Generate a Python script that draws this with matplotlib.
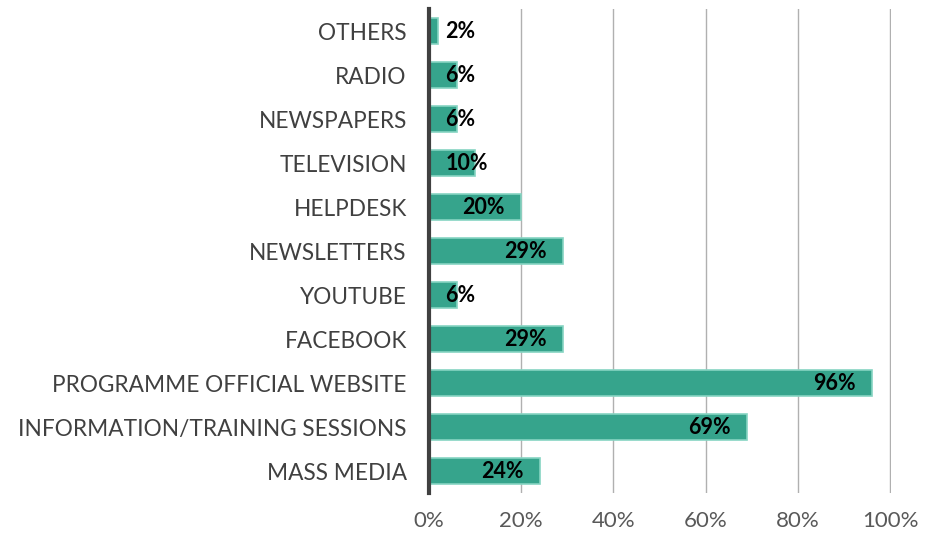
import numpy as np
import matplotlib.pyplot as plt

plt.rcParams['font.family'] = ['Lato', 'DejaVu Sans']

# 数据（从上到下）
categories = ['OTHERS', 'RADIO', 'NEWSPAPERS', 'TELEVISION', 'HELPDESK',
              'NEWSLETTERS', 'YOUTUBE', 'FACEBOOK',
              'PROGRAMME OFFICIAL WEBSITE', 'INFORMATION/TRAINING SESSIONS',
              'MASS MEDIA']
values = [2, 6, 6, 10, 20, 29, 6, 29, 96, 69, 24]
xticks = [0, 20, 40, 60, 80, 100]

fig = plt.figure(figsize=(9.28, 5.4), dpi=100)
ax = fig.add_axes([0.4623, 0.087, 0.4978, 0.896])

y = np.arange(len(categories))
ax.barh(y, values, height=0.6, color='#36a48c', edgecolor='#86d4c2',
        linewidth=1.2, zorder=3)

ax.set_ylim(len(categories) - 0.5, -0.5)
ax.set_xlim(0, 100.2)
ax.set_yticks(y)
ax.set_yticklabels(categories, fontsize=16.3, color='#404040')
ax.set_xticks(xticks)
ax.set_xticklabels([f'{t}%' for t in xticks], fontsize=16, color='#595959')
ax.tick_params(axis='both', length=0)
ax.tick_params(axis='y', pad=16)
ax.tick_params(axis='x', pad=13)

# 网格线
ax.grid(axis='x', color='#b0b0b0', linewidth=1, zorder=0)
ax.grid(axis='y', visible=False)
for s in ['top', 'right', 'bottom']:
    ax.spines[s].set_visible(False)
ax.spines['left'].set_color('#404040')
ax.spines['left'].set_linewidth(3)
ax.spines['left'].set_zorder(5)

# 数据标签
for yi, v in zip(y, values):
    if v < 15:
        ax.text(3.6, yi, f'{v}%', ha='left', va='center', fontsize=15.5,
                fontweight='bold', color='black', zorder=6)
    else:
        ax.text(v - 3.5, yi, f'{v}%', ha='right', va='center', fontsize=15.5,
                fontweight='bold', color='black', zorder=6)

plt.savefig('out.png', dpi=100)
